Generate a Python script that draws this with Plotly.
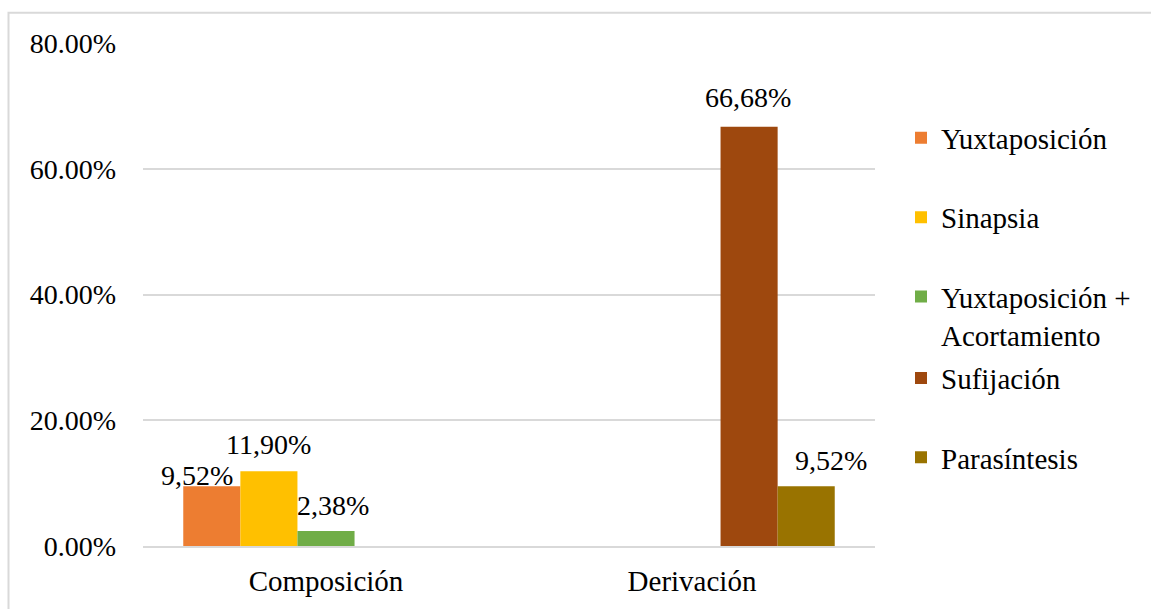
import plotly.graph_objects as go

categories = ["Composición", "Derivación"]
series_names = ["Yuxtaposición", "Sinapsia", "Yuxtaposición +<br>Acortamiento", "Sufijación", "Parasíntesis"]
yuxtaposicion = [9.52, None]
sinapsia = [11.90, None]
yuxt_acort = [2.38, None]
sufijacion = [None, 66.68]
parasintesis = [None, 9.52]
colors = ["#ED7D31", "#FFC000", "#70AD47", "#9E480E", "#997300"]
y_ticks = [0, 20, 40, 60, 80]
y_tick_labels = [f"{v:.2f}%" for v in y_ticks]

series_values = [yuxtaposicion, sinapsia, yuxt_acort, sufijacion, parasintesis]

W, H = 1151, 609
L, R, T, B = 143, 276, 43, 59
pw, ph = W - L - R, H - T - B
BARGAP = 0.22
slot = pw / len(categories) * (1 - BARGAP) / len(series_values)

def px_x(x):
    return (x - L) / pw

def px_y(y):
    return (H - B - y) / ph

FONT = "Liberation Serif"
FS_LEG = 29
FS_TICK = 28
FS_LBL = 28

def fmt(v):
    return f"{v:.2f}".replace(".", ",") + "%"

# per-label pixel nudges (style only), keyed by (series, category)
label_nudge = {(0, 0): (-15, -7), (1, 0): (0, 9), (2, 0): (7, 8),
               (3, 1): (-1, 12), (4, 1): (25, 8)}

fig = go.Figure()
legend_names = ["legend", "legend2", "legend3", "legend4", "legend5"]
annotations = []
for i, (name, vals) in enumerate(zip(series_names, series_values)):
    fig.add_trace(go.Bar(
        name=name, x=categories, y=vals, marker_color=colors[i],
        marker_line_width=0, legend=legend_names[i], hoverinfo="x+y",
    ))
    for j, v in enumerate(vals):
        if v is None:
            continue
        dx, dy = label_nudge.get((i, j), (0, 8))
        annotations.append(dict(
            x=categories[j], y=v, xref="x", yref="y", text=fmt(v),
            showarrow=False, xanchor="center", yanchor="bottom",
            xshift=(i - (len(series_values) - 1) / 2) * slot + dx, yshift=dy,
            font=dict(family=FONT, size=FS_LBL, color="#000000"),
        ))

legend_ys = [139, 219, 299, 381, 461]
layout_legends = {}
for i, ln in enumerate(legend_names):
    layout_legends[ln] = dict(
        x=px_x(901), xanchor="left",
        y=px_y(legend_ys[i] - 26), yanchor="top",
        font=dict(family=FONT, size=FS_LEG, color="#000000"),
        bgcolor="rgba(0,0,0,0)", borderwidth=0, valign="top",
        itemclick=False, itemdoubleclick=False,
    )

fig.update_layout(
    width=W, height=H,
    margin=dict(l=L, r=R, t=T, b=B),
    paper_bgcolor="white", plot_bgcolor="white",
    barmode="group", bargap=BARGAP, bargroupgap=0,
    font=dict(family=FONT, size=FS_TICK, color="#000000"),
    showlegend=True,
    annotations=annotations,
    xaxis=dict(showgrid=False, showline=True, linecolor="#d9d9d9", linewidth=2,
               ticks="", tickfont=dict(family=FONT, size=FS_LEG), ticklabelstandoff=8,
               fixedrange=True),
    yaxis=dict(range=[0, 80], tickmode="array", tickvals=y_ticks, ticktext=y_tick_labels,
               showgrid=True, gridcolor="#d9d9d9", gridwidth=2, zeroline=False,
               showline=False, ticks="", tickfont=dict(family=FONT, size=FS_TICK),
               ticklabelstandoff=26, fixedrange=True),
    shapes=[dict(type="rect", xref="paper", yref="paper",
                 x0=px_x(8.5), x1=px_x(W + 20), y0=px_y(H + 20), y1=px_y(12.5),
                 line=dict(color="#d9d9d9", width=2), fillcolor="rgba(0,0,0,0)",
                 layer="below")],
    **layout_legends,
)

fig.write_html("out.html")
